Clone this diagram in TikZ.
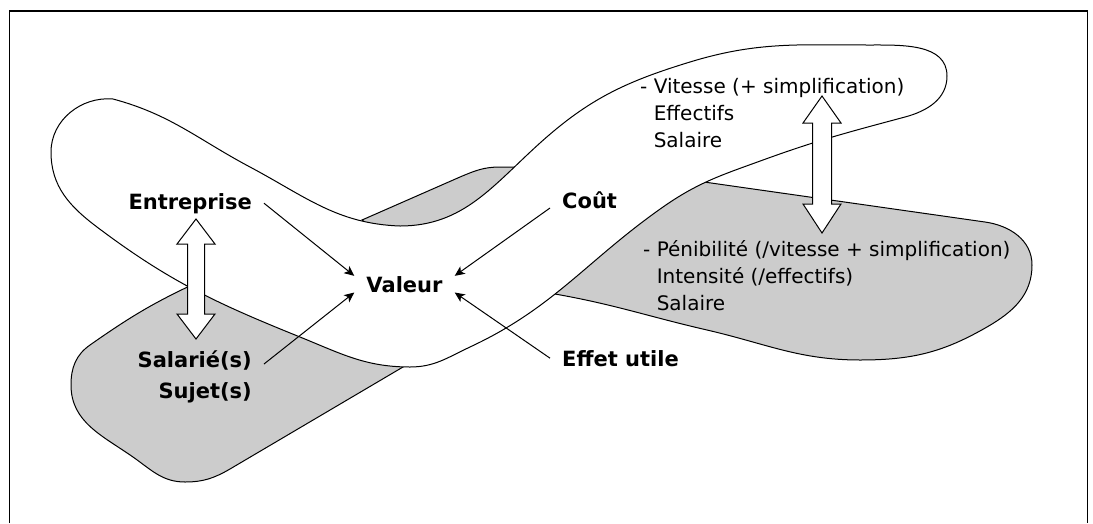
\documentclass[tikz,border=0pt]{standalone}
\usepackage{fontspec}
\setmainfont{DejaVu Sans}
\usetikzlibrary{arrows.meta}
\definecolor{grisclair}{RGB}{204,204,204}

\begin{document}
\begin{tikzpicture}[x=1pt,y=1pt,
  fleche/.style={line width=1pt,-{Stealth[length=10pt,width=9pt,inset=2.5pt]}},
  etiq/.style={font=\fontsize{21}{31}\selectfont\bfseries,inner xsep=12pt,inner ysep=0pt},
  texte/.style={font=\fontsize{20}{27}\selectfont,inner sep=0pt,align=left}]
\useasboundingbox (0,0) rectangle (1093,-523);
\path
  coordinate (bl1) at (51,-152)
  coordinate (bl2) at (113,-99)
  coordinate (bl3) at (250,-167)
  coordinate (bl4) at (400,-226)
  coordinate (bl5) at (540,-143)
  coordinate (bl6) at (690,-62)
  coordinate (bl7) at (870,-45)
  coordinate (bl8) at (947,-76)
  coordinate (bl9) at (905,-117)
  coordinate (bl10) at (763,-160)
  coordinate (bl11) at (663,-207)
  coordinate (bl12) at (470,-347)
  coordinate (bl13) at (410,-367)
  coordinate (bl14) at (300,-337)
  coordinate (bl15) at (97,-227)
  coordinate (gl1) at (196,-283)
  coordinate (gl2) at (90,-345)
  coordinate (gl3) at (71,-385)
  coordinate (gl4) at (133,-457)
  coordinate (gl5) at (185,-482)
  coordinate (gl6) at (230,-469)
  coordinate (gl7) at (403,-367)
  coordinate (gl8) at (320,-300)
  coordinate (gm1) at (362,-220)
  coordinate (gm2) at (460,-177)
  coordinate (gm3) at (500,-167)
  coordinate (gm4) at (525,-167)
  coordinate (gm5) at (530,-200)
  coordinate (gm6) at (400,-250)
  coordinate (gd1) at (690,-180)
  coordinate (gd2) at (985,-222)
  coordinate (gd3) at (1032,-265)
  coordinate (gd4) at (987,-327)
  coordinate (gd5) at (860,-360)
  coordinate (gd6) at (707,-330)
  coordinate (gd7) at (555,-294)
  coordinate (gd8) at (600,-200)
  ;
% cadre
\draw[line width=1.6pt] (9.5,-523) -- (9.5,-11) -- (1087.5,-11) -- (1087.5,-523);
% zones grises
\filldraw[fill=grisclair,line width=1pt]
  (gl1) to[out=205,in=35]
  (gl2) to[out=215,in=90]
  (gl3) to[out=-90,in=145]
  (gl4) to[out=-35,in=180]
  (gl5) to[out=0,in=210]
  (gl6) --
  (gl7) --
  (gl8) -- cycle;
\filldraw[fill=grisclair,line width=1pt]
  (gm1) --
  (gm2) to[out=23,in=180]
  (gm3) --
  (gm4) --
  (gm5) --
  (gm6) -- cycle;
\filldraw[fill=grisclair,line width=1pt]
  (gd1) --
  (gd2) to[out=-8,in=90]
  (gd3) to[out=-90,in=30]
  (gd4) to[out=210,in=0]
  (gd5) to[out=180,in=-13]
  (gd6) to[out=167,in=-10]
  (gd7) --
  (gd8) -- cycle;
% bande blanche
\filldraw[fill=white,line width=1pt]
  (bl1) to[out=90,in=175]
  (bl2) to[out=-15,in=152]
  (bl3) to[out=-28,in=178]
  (bl4) to[out=0,in=222]
  (bl5) to[out=42,in=197]
  (bl6) to[out=17,in=180]
  (bl7) to[out=0,in=90]
  (bl8) to[out=-90,in=15]
  (bl9) to[out=195,in=20]
  (bl10) to[out=200,in=35]
  (bl11) to[out=215,in=25]
  (bl12) to[out=205,in=0]
  (bl13) to[out=180,in=-22]
  (bl14) to[out=158,in=-37]
  (bl15) to[out=143,in=-90] cycle;
% doubles fleches
\filldraw[fill=white,line width=1pt]
  (196,-219) -- (215,-244) -- (204.5,-244) -- (204.5,-314) -- (215,-314) --
  (196,-339) -- (177,-314) -- (187.5,-314) -- (187.5,-244) -- (177,-244) -- cycle;
\filldraw[fill=white,line width=1pt]
  (822,-96) -- (841,-123) -- (831.5,-123) -- (831.5,-204) -- (841,-204) --
  (822,-233) -- (803,-204) -- (812.5,-204) -- (812.5,-123) -- (803,-123) -- cycle;
% textes
\node[etiq,anchor=base east] (entreprise) at (264,-209) {Entreprise};
\node[etiq,anchor=base] (valeur) at (404.5,-292) {Valeur};
\node[etiq,anchor=base west] (cout) at (550,-208) {Coût};
\node[etiq,anchor=base west] (effet) at (550,-366) {Effet utile};
\node[etiq,anchor=base east,align=right] (salarie) at (264,-398) {Salarié(s)\\Sujet(s)};
\node[texte,anchor=base west] (vitesse) at (640,-147)
  {- Vitesse (+ simplification)\\\hphantom{- }Effectifs\\\hphantom{- }Salaire};
\node[texte,anchor=base west] (penibilite) at (643,-310)
  {- Pénibilité (/vitesse + simplification)\\\hphantom{- }Intensité (/effectifs)\\\hphantom{- }Salaire};
\draw[fleche] (entreprise.east) -- (valeur.north west);
\draw[fleche] ([yshift=-14pt]salarie.north east) -- (valeur.south west);
\draw[fleche] (cout.base west) -- (valeur.north east);
\draw[fleche] (effet.west) -- (valeur.south east);
\end{tikzpicture}
\end{document}
